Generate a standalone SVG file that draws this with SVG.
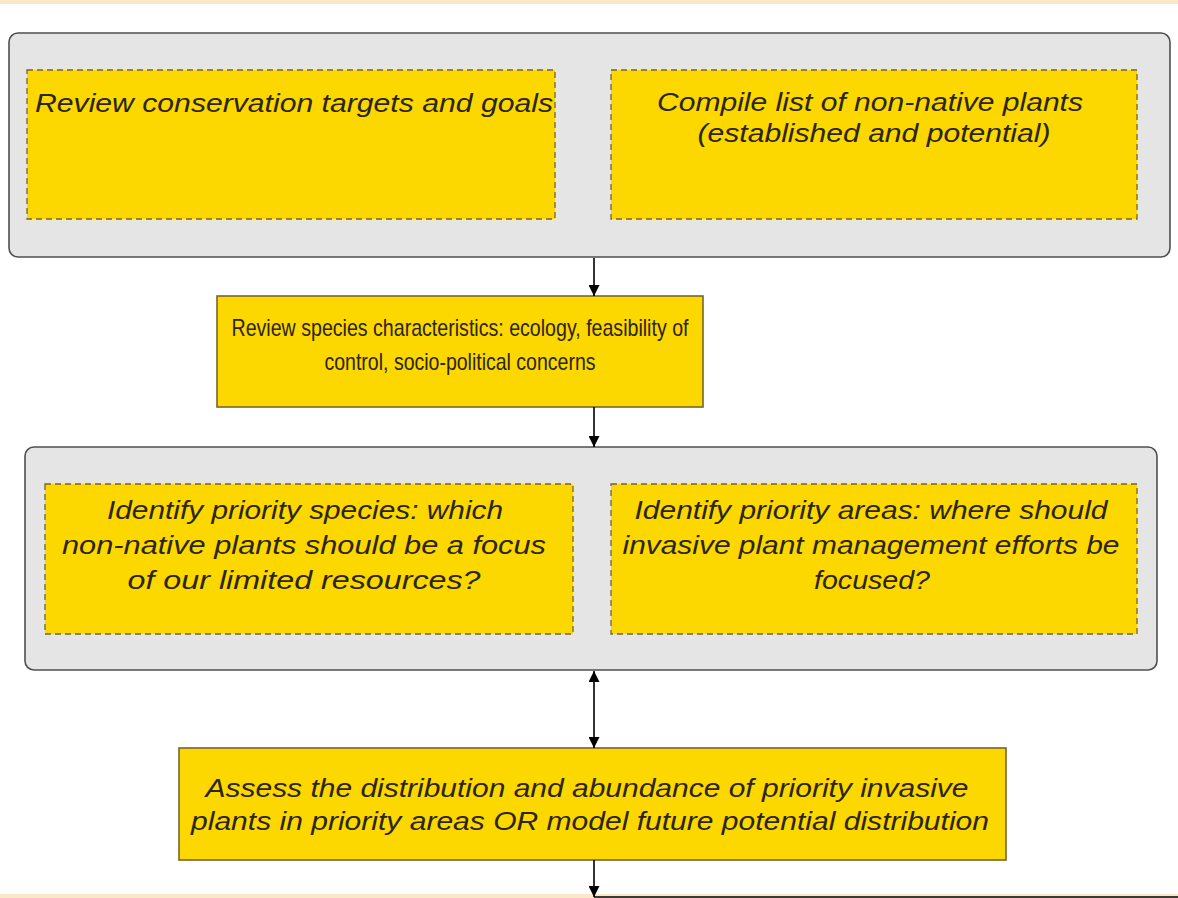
<svg xmlns="http://www.w3.org/2000/svg" width="1178" height="898" viewBox="0 0 1178 898">
<style>
.band{fill:#fbe8c9}
.outer{fill:#e5e5e5;stroke:#4f4f4f;stroke-width:1.6}
.dash{fill:#fdd700;stroke:#75662a;stroke-width:1.3;stroke-dasharray:6 4}
.solid{fill:#fdd700;stroke:#75662a;stroke-width:1.6}
.it{font-family:"Liberation Sans",Arial,sans-serif;font-style:italic;font-size:25px;fill:#2b2512}
.rg{font-family:"Liberation Sans",Arial,sans-serif;font-size:24px;fill:#2b2512}
.mid{text-anchor:middle}
.conn{stroke:#000;stroke-width:1.6;fill:none}
</style>
<defs>
<marker id="ah" viewBox="0 0 10 10" refX="10" refY="5" markerWidth="12" markerHeight="11" markerUnits="userSpaceOnUse" orient="auto-start-reverse">
<path d="M0,0 L10,5 L0,10 z" fill="#000"/>
</marker>
</defs>
<rect width="1178" height="898" fill="#ffffff"/>
<rect class="band" x="0" y="0" width="1178" height="4"/>
<rect class="band" x="0" y="894" width="1178" height="4"/>

<g id="group-top">
<rect class="outer" x="9" y="33" width="1161" height="224" rx="9"/>
</g>
<g id="node-review-targets">
<rect class="dash" x="27" y="70" width="528" height="149"/>
<text class="it" x="35" y="112" textLength="518" lengthAdjust="spacingAndGlyphs">Review conservation targets and goals</text>
</g>
<g id="node-compile-list">
<rect class="dash" x="611" y="70" width="526" height="149"/>
<text class="it mid" x="870" y="111" textLength="426" lengthAdjust="spacingAndGlyphs">Compile list of non-native plants</text>
<text class="it mid" x="874" y="142" textLength="353" lengthAdjust="spacingAndGlyphs">(established and potential)</text>
</g>

<g id="node-species-characteristics">
<rect class="solid" x="217" y="296" width="486" height="111"/>
<text class="rg mid" x="460" y="336" textLength="457" lengthAdjust="spacingAndGlyphs">Review species characteristics: ecology, feasibility of</text>
<text class="rg mid" x="460" y="370" textLength="271" lengthAdjust="spacingAndGlyphs">control, socio-political concerns</text>
</g>

<g id="group-middle">
<rect class="outer" x="25" y="447" width="1132" height="223" rx="9"/>
</g>
<g id="node-priority-species">
<rect class="dash" x="45" y="484" width="528" height="150"/>
<text class="it mid" x="305" y="519" textLength="396" lengthAdjust="spacingAndGlyphs">Identify priority species: which</text>
<text class="it mid" x="304" y="554" textLength="484" lengthAdjust="spacingAndGlyphs">non-native plants should be a focus</text>
<text class="it mid" x="304" y="589" textLength="353" lengthAdjust="spacingAndGlyphs">of our limited resources?</text>
</g>
<g id="node-priority-areas">
<rect class="dash" x="611" y="484" width="526" height="150"/>
<text class="it mid" x="871" y="519" textLength="473" lengthAdjust="spacingAndGlyphs">Identify priority areas: where should</text>
<text class="it mid" x="871" y="554" textLength="497" lengthAdjust="spacingAndGlyphs">invasive plant management efforts be</text>
<text class="it mid" x="872" y="589" textLength="116" lengthAdjust="spacingAndGlyphs">focused?</text>
</g>

<g id="node-assess-distribution">
<rect class="solid" x="179" y="748" width="827" height="112"/>
<text class="it mid" x="587" y="797" textLength="763" lengthAdjust="spacingAndGlyphs">Assess the distribution and abundance of priority invasive</text>
<text class="it mid" x="590" y="830" textLength="798" lengthAdjust="spacingAndGlyphs">plants in priority areas OR model future potential distribution</text>
</g>

<g id="connectors">
<line class="conn" x1="594" y1="258" x2="594" y2="296" marker-end="url(#ah)"/>
<line class="conn" x1="594" y1="407" x2="594" y2="447" marker-end="url(#ah)"/>
<line class="conn" x1="594" y1="671" x2="594" y2="748" marker-start="url(#ah)" marker-end="url(#ah)"/>
<line class="conn" x1="594" y1="860" x2="594" y2="897" marker-end="url(#ah)"/>
<line class="conn" x1="594" y1="897" x2="1178" y2="897" stroke-width="2"/>
</g>
</svg>
